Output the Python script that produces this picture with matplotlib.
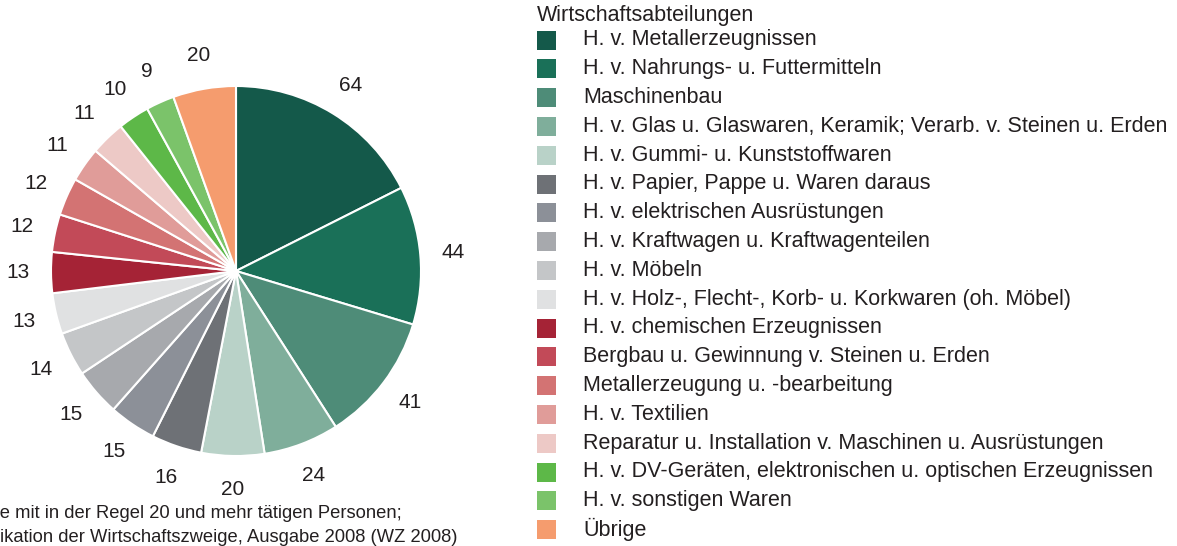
import matplotlib
matplotlib.use("Agg")
import matplotlib.pyplot as plt
from matplotlib.patches import Rectangle

plt.rcParams['font.family'] = ['Liberation Sans', 'DejaVu Sans']

# Betriebe nach Wirtschaftsabteilungen (Anzahl)
abteilungen = [
    "H. v. Metallerzeugnissen",
    "H. v. Nahrungs- u. Futtermitteln",
    "Maschinenbau",
    "H. v. Glas u. Glaswaren, Keramik; Verarb. v. Steinen u. Erden",
    "H. v. Gummi- u. Kunststoffwaren",
    "H. v. Papier, Pappe u. Waren daraus",
    "H. v. elektrischen Ausrüstungen",
    "H. v. Kraftwagen u. Kraftwagenteilen",
    "H. v. Möbeln",
    "H. v. Holz-, Flecht-, Korb- u. Korkwaren (oh. Möbel)",
    "H. v. chemischen Erzeugnissen",
    "Bergbau u. Gewinnung v. Steinen u. Erden",
    "Metallerzeugung u. -bearbeitung",
    "H. v. Textilien",
    "Reparatur u. Installation v. Maschinen u. Ausrüstungen",
    "H. v. DV-Geräten, elektronischen u. optischen Erzeugnissen",
    "H. v. sonstigen Waren",
    "Übrige",
]
betriebe = [64, 44, 41, 24, 20, 16, 15, 15, 14, 13, 13, 12, 12, 11, 11, 10, 9, 20]
farben = [
    "#14594a", "#1a7058", "#4e8c78", "#7fae9b", "#b9d2c8",
    "#6e7176", "#8c9098", "#a7a9ad", "#c4c6c8", "#e0e1e2",
    "#a52336", "#c24a58", "#d37373", "#e09c99", "#edc9c6",
    "#5db848", "#7bc36a", "#f59c6e",
]

textfarbe = "#231f20"
W, H = 1177, 546

fig = plt.figure(figsize=(W / 100, H / 100), dpi=100)

# pie: centre (236, 271) px, radius 185 px
cx, cy, r = 236, 271, 185
ax = fig.add_axes([(cx - r) / W, (H - cy - r) / H, 2 * r / W, 2 * r / H])
ax.pie(betriebe, colors=farben, startangle=90, counterclock=False,
       labels=[str(v) for v in betriebe], labeldistance=1.18,
       wedgeprops=dict(edgecolor="white", linewidth=1.5),
       textprops=dict(fontsize=15, color=textfarbe, ha="center", va="center"))
for t in ax.texts:
    t.set_horizontalalignment("center")
ax.set_xlim(-1, 1)
ax.set_ylim(-1, 1)
ax.set_aspect("equal")
ax.axis("off")

# legend
x0 = 537
fig.text(x0 / W, 1 - 15 / H, "Wirtschaftsabteilungen", fontsize=15.5,
         color=textfarbe, ha="left", va="center")
y_start, step, box = 40, 28.8, 19
for i, (lab, col) in enumerate(zip(abteilungen, farben)):
    y = y_start + i * step
    fig.add_artist(Rectangle((x0 / W, 1 - (y + box / 2) / H), box / W, box / H,
                             transform=fig.transFigure, facecolor=col,
                             edgecolor="none"))
    fig.text(583 / W, 1 - y / H, lab, fontsize=15.5, color=textfarbe,
             ha="left", va="center")

# footnote (cut off at the left edge, as in the source)
fig.text(402 / W, 1 - 514 / H,
         "1) Betriebe mit in der Regel 20 und mehr tätigen Personen;",
         fontsize=13.2, color=textfarbe, ha="right", va="center")
fig.text(457 / W, 1 - 537 / H,
         "Klassifikation der Wirtschaftszweige, Ausgabe 2008 (WZ 2008)",
         fontsize=13.2, color=textfarbe, ha="right", va="center")

fig.savefig("out.png", dpi=100)
